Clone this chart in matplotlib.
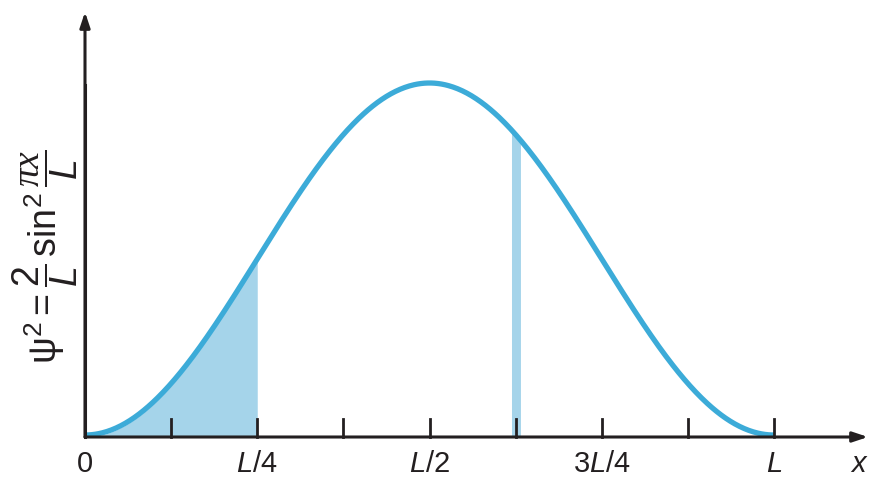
import numpy as np
import matplotlib
matplotlib.use("Agg")
import matplotlib.pyplot as plt

plt.rcParams['mathtext.fontset'] = 'custom'
plt.rcParams['mathtext.rm'] = 'Liberation Sans'
plt.rcParams['mathtext.it'] = 'Liberation Sans:italic'
plt.rcParams['mathtext.sf'] = 'Liberation Serif:italic'
plt.rcParams['font.family'] = ['Liberation Sans', 'DejaVu Sans']

# data (x in units of L)
tick_positions = [0.125, 0.25, 0.375, 0.5, 0.625, 0.75, 0.875, 1.0]
label_positions = [0, 0.25, 0.5, 0.75, 1.0]
label_texts = ['0', '$L$/4', '$L$/2', '3$L$/4', '$L$']
shade_range = [0.0, 0.25]
strip_range = [0.619, 0.632]
amplitude = 1.0

CURVE = '#3cabd8'
FILL = '#a5d4ea'
AX = '#231f20'

W, H = 872, 482
fig = plt.figure(figsize=(W/100, H/100), dpi=100)
ax = fig.add_axes([0, 0, 1, 1])
x0px, x1px = 85, 774
y0px, y1px = 437, 85
sx = x1px - x0px
sy = y0px - y1px
ax.set_xlim(-x0px/sx, (W - x0px)/sx)
ax.set_ylim(-(H - y0px)/sy, y0px/sy)
ax.axis('off')

x = np.linspace(0, 1, 600)
y = amplitude*np.sin(np.pi*x)**2

xs = np.linspace(*shade_range, 200)
ax.fill_between(xs, 0, amplitude*np.sin(np.pi*xs)**2, color=FILL, lw=0, zorder=1)
xs2 = np.linspace(*strip_range, 20)
ax.fill_between(xs2, 0, amplitude*np.sin(np.pi*xs2)**2, color=FILL, lw=0, zorder=1)

ax.plot(x, y + 2.0/sy, color=CURVE, lw=3.8, solid_capstyle='butt', zorder=3)

# axes
ax.annotate('', xy=((868 - x0px)/sx, 0), xytext=(0, 0),
            arrowprops=dict(arrowstyle='-|>,head_length=0.9,head_width=0.3', color=AX, lw=2.2,
                            shrinkA=0, shrinkB=0), zorder=4)
ax.annotate('', xy=(0, (y0px - 12)/sy), xytext=(0, 0),
            arrowprops=dict(arrowstyle='-|>,head_length=0.9,head_width=0.3', color=AX, lw=2.2,
                            shrinkA=0, shrinkB=0), zorder=4)
ax.plot([0, 0], [0, 1.0], color=AX, lw=2.2, zorder=4)
for t in tick_positions:
    ax.plot([t, t], [0, 18/sy], color=AX, lw=2.0, zorder=4)

for p, s in zip(label_positions, label_texts):
    ax.text(p, -27/sy, s, ha='center', va='center', fontsize=21, color=AX)
ax.text((859 - x0px)/sx, -27/sy, '$x$', ha='center', va='center', fontsize=21, color=AX)

ax.text(-40/sx, (y0px - 257)/sy,
        r'$\mathrm{\psi}^2 = \dfrac{2}{L}\,\mathrm{sin}^2\,\dfrac{\mathsf{\pi x}}{L}$',
        rotation=90, ha='center', va='center', fontsize=27, color=AX)

fig.savefig('out.png', dpi=100)
